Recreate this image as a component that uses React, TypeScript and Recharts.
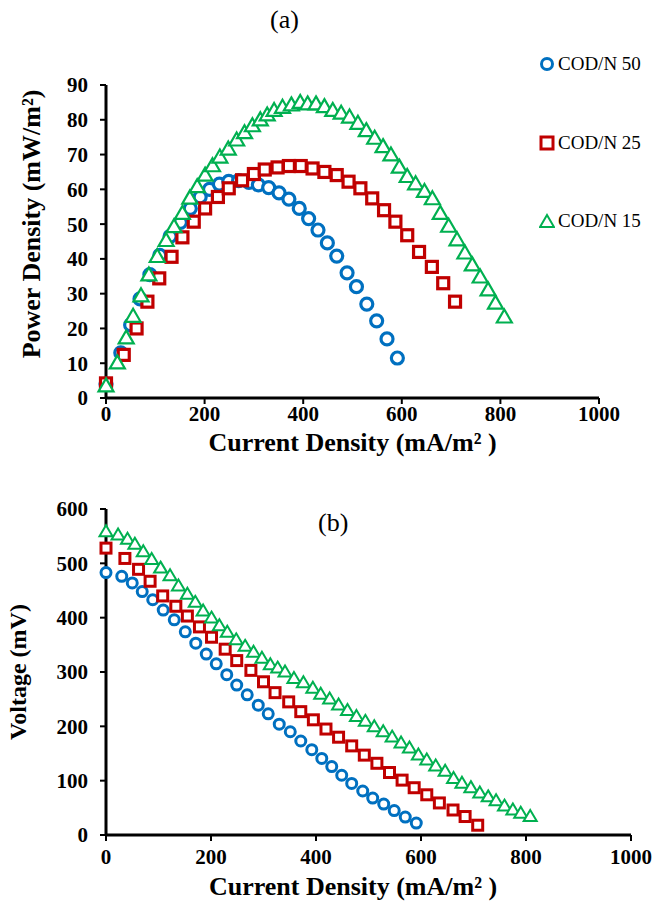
import { ScatterChart, Scatter, XAxis, YAxis, Label } from 'recharts';

const SERIES_NAMES = ['COD/N 50', 'COD/N 25', 'COD/N 15'];

// current density (mA/m²) of each polarization point
const CURRENT_50 = [0, 30, 50, 69, 89, 109, 130, 151, 171, 191, 210, 230, 249, 269, 290, 309, 330, 351, 371, 392, 411, 430, 449, 468, 489, 508, 529, 549, 570, 591];
const CURRENT_25 = [0, 36, 62, 84, 108, 133, 155, 178, 201, 227, 249, 276, 300, 322, 348, 371, 395, 419, 443, 468, 492, 516, 540, 564, 587, 611, 635, 661, 684, 708];
const CURRENT_15 = [0, 23, 41, 55, 71, 87, 104, 122, 138, 155, 170, 185, 201, 216, 231, 248, 265, 281, 297, 313, 327, 341, 358, 376, 394, 409, 426, 443, 460, 477, 494, 511, 528, 545, 562, 578, 595, 611, 628, 646, 662, 678, 695, 712, 728, 743, 759, 775, 790, 808];

// power density (mW/m²)
const POWER_50 = [4, 13, 21, 28.5, 35.5, 41, 46.5, 50.5, 54.5, 57.8, 60, 61.5, 62.3, 62.5, 62, 61.3, 60.5, 59, 57.2, 54.5, 51.6, 48.3, 44.6, 40.8, 36, 32, 27, 22.2, 17, 11.5];
const POWER_25 = [4.2, 12.4, 20, 27.7, 34.4, 40.6, 46.2, 50.7, 54.5, 57.8, 60.3, 62.6, 64.4, 65.7, 66.3, 66.7, 66.7, 66, 65, 64.1, 62.2, 60.3, 57.4, 54, 50.7, 46.8, 42, 37.7, 33, 27.7];
const POWER_15 = [3.4, 10, 17.2, 23.4, 29.3, 35.3, 40.6, 45.2, 49.2, 53, 57.4, 60.7, 64, 66.7, 69.2, 71.5, 74.1, 76.2, 78.2, 79.9, 81.3, 82.6, 83.5, 84.2, 84.9, 84.5, 84.5, 83.7, 82.6, 81.8, 80.7, 78.9, 76.8, 74.6, 72.2, 69.8, 66.3, 63.6, 61.5, 59.3, 57.2, 53, 49.3, 45.4, 41.6, 38.2, 34.7, 31, 27.2, 23.2];

// cell voltage (mV)
const VOLTAGE_50 = [483, 476, 464, 448, 433, 414, 396, 374, 353, 333, 315, 295, 276, 258, 239, 223, 204, 190, 173, 157, 141, 126, 110, 95, 81, 68, 57, 45, 33, 22];
const VOLTAGE_25 = [528, 509, 489, 467, 440, 421, 403, 383, 364, 342, 321, 303, 282, 262, 245, 227, 212, 195, 180, 164, 147, 132, 115, 101, 87, 74, 59, 46, 34, 18];
const VOLTAGE_15 = [558, 552, 544, 535, 521, 507, 491, 477, 458, 443, 428, 412, 399, 385, 373, 359, 347, 336, 325, 313, 307, 300, 288, 280, 270, 259, 250, 239, 229, 218, 209, 199, 190, 180, 169, 160, 147, 138, 127, 117, 104, 95, 87, 77, 70, 63, 53, 46, 40, 34];

const X_TICKS = [0, 200, 400, 600, 800, 1000];
const POWER_TICKS = [0, 10, 20, 30, 40, 50, 60, 70, 80, 90];
const VOLTAGE_TICKS = [0, 100, 200, 300, 400, 500, 600];

const FONT = '"Times New Roman", "Liberation Serif", serif';
const BLUE = '#0070C0';
const RED = '#C00000';
const GREEN = '#00B050';

const pairs = (xs: number[], ys: number[]) => xs.map((x, i) => ({ x, y: ys[i] }));

const powerData = [pairs(CURRENT_50, POWER_50), pairs(CURRENT_25, POWER_25), pairs(CURRENT_15, POWER_15)];
const voltageData = [pairs(CURRENT_50, VOLTAGE_50), pairs(CURRENT_25, VOLTAGE_25), pairs(CURRENT_15, VOLTAGE_15)];

const circle = (r: number, sw: number) => (p: any) => (
  <circle cx={p.cx} cy={p.cy} r={r} fill="#fff" stroke={BLUE} strokeWidth={sw} />
);
const square = (s: number, sw: number) => (p: any) => (
  <rect x={p.cx - s / 2} y={p.cy - s / 2} width={s} height={s} fill="#fff" stroke={RED} strokeWidth={sw} />
);
const triangle = (w: number, h: number, sw: number) => (p: any) => (
  <polygon
    points={`${p.cx},${p.cy - h * 0.6} ${p.cx + w / 2},${p.cy + h * 0.4} ${p.cx - w / 2},${p.cy + h * 0.4}`}
    fill="#fff"
    stroke={GREEN}
    strokeWidth={sw}
  />
);

const tickStyle = { fill: '#000', fontSize: 21, fontWeight: 700, fontFamily: FONT };
const axisLine = { stroke: '#000', strokeWidth: 3 };
const tickLine = { stroke: '#000', strokeWidth: 2 };

// axis titles, drawn from the axis box that recharts hands to the label
function XTitle(props: any) {
  const { viewBox, text, dy, cx } = props;
  const x = cx ?? viewBox.x + viewBox.width / 2;
  return (
    <text x={x} y={viewBox.y + dy} textAnchor="middle" fontFamily={FONT} fontWeight={700} fontSize={26} fill="#000">
      {text}
    </text>
  );
}

function YTitle(props: any) {
  const { viewBox, text, cx, cy, size } = props;
  const y = cy ?? viewBox.y + viewBox.height / 2;
  return (
    <text x={cx} y={y} transform={`rotate(-90 ${cx} ${y})`} textAnchor="middle" dominantBaseline="central" fontFamily={FONT} fontWeight={700} fontSize={size} fill="#000">
      {text}
    </text>
  );
}

function LegendRow({ kind, name, top }: { kind: number; name: string; top: number }) {
  const shape =
    kind === 0 ? <circle cx={8} cy={8} r={5.5} fill="#fff" stroke={BLUE} strokeWidth={3} /> :
    kind === 1 ? <rect x={2} y={2} width={12} height={12} fill="#fff" stroke={RED} strokeWidth={3} /> :
    <polygon points="8,2 15,14 1,14" fill="#fff" stroke={GREEN} strokeWidth={2} />;
  return (
    <div style={{ position: 'absolute', left: 539, top: top - 12, height: 24, display: 'flex', alignItems: 'center' }}>
      <svg width={16} height={16}>{shape}</svg>
      <span style={{ fontFamily: FONT, fontSize: 19, marginLeft: 3, color: '#000', whiteSpace: 'nowrap' }}>{name}</span>
    </div>
  );
}

export default function App() {
  return (
    <div style={{ position: 'absolute', left: 0, top: 0, width: 656, height: 902, background: '#fff' }}>
      <div style={{ position: 'absolute', left: 0, top: 0 }}>
        <ScatterChart width={656} height={470} margin={{ top: 85, right: 57, left: 0, bottom: 0 }}>
          <XAxis
            type="number"
            dataKey="x"
            domain={[0, 1000]}
            ticks={X_TICKS}
            axisLine={axisLine}
            tickLine={tickLine}
            tickSize={6}
            tickMargin={2}
            tick={tickStyle}
            height={72}
          >
            <Label content={(p: any) => <XTitle {...p} text="Current Density (mA/m² )" dy={53} />} />
          </XAxis>
          <YAxis
            type="number"
            dataKey="y"
            domain={[0, 90]}
            ticks={POWER_TICKS}
            axisLine={axisLine}
            tickLine={tickLine}
            tickSize={6}
            tickMargin={12}
            tick={tickStyle}
            width={106}
          >
            <Label content={(p: any) => <YTitle {...p} text="Power Density (mW/m²)" cx={31} cy={224} size={26} />} />
          </YAxis>
          <Scatter name={SERIES_NAMES[0]} data={powerData[0]} shape={circle(6, 3.2)} isAnimationActive={false} />
          <Scatter name={SERIES_NAMES[1]} data={powerData[1]} shape={square(11, 3.2)} isAnimationActive={false} />
          <Scatter name={SERIES_NAMES[2]} data={powerData[2]} shape={triangle(15, 13, 2.2)} isAnimationActive={false} />
        </ScatterChart>
      </div>

      <div style={{ position: 'absolute', left: 0, top: 460 }}>
        <ScatterChart width={656} height={442} margin={{ top: 49, right: 25, left: 0, bottom: 0 }}>
          <XAxis
            type="number"
            dataKey="x"
            domain={[0, 1000]}
            ticks={X_TICKS}
            axisLine={axisLine}
            tickLine={tickLine}
            tickSize={6}
            tickMargin={8}
            tick={tickStyle}
            height={67}
          >
            <Label content={(p: any) => <XTitle {...p} text="Current Density (mA/m² )" dy={60} cx={353} />} />
          </XAxis>
          <YAxis
            type="number"
            dataKey="y"
            domain={[0, 600]}
            ticks={VOLTAGE_TICKS}
            axisLine={axisLine}
            tickLine={tickLine}
            tickSize={6}
            tickMargin={12}
            tick={tickStyle}
            width={106}
          >
            <Label content={(p: any) => <YTitle {...p} text="Voltage (mV)" cx={18} size={24} />} />
          </YAxis>
          <Scatter name={SERIES_NAMES[0]} data={voltageData[0]} shape={circle(5, 3)} isAnimationActive={false} />
          <Scatter name={SERIES_NAMES[1]} data={voltageData[1]} shape={square(10, 3)} isAnimationActive={false} />
          <Scatter name={SERIES_NAMES[2]} data={voltageData[2]} shape={triangle(13, 11, 2)} isAnimationActive={false} />
        </ScatterChart>
      </div>

      <div style={{ position: 'absolute', left: 270, top: 5, fontFamily: FONT, fontSize: 26, lineHeight: '30px' }}>(a)</div>
      <div style={{ position: 'absolute', left: 318, top: 508, fontFamily: FONT, fontSize: 26, lineHeight: '30px' }}>(b)</div>

      <LegendRow kind={0} name={SERIES_NAMES[0]} top={64} />
      <LegendRow kind={1} name={SERIES_NAMES[1]} top={143} />
      <LegendRow kind={2} name={SERIES_NAMES[2]} top={221} />
    </div>
  );
}
